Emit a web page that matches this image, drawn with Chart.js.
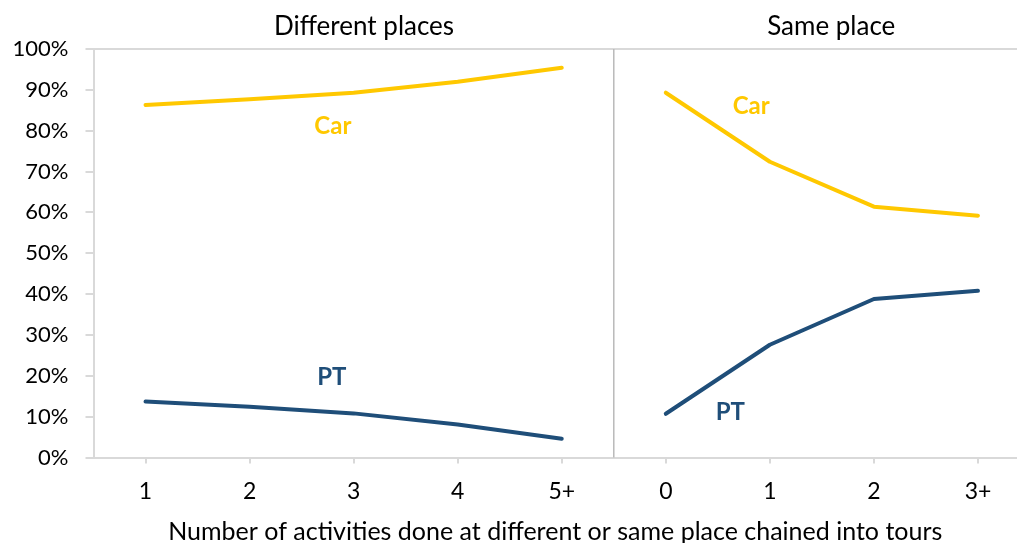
<!DOCTYPE html>
<html>
<head>
<meta charset="utf-8">
<script src="https://cdn.jsdelivr.net/npm/chart.js@4/dist/chart.umd.min.js"></script>
<style>
  html, body { margin: 0; padding: 0; background: #fff; }
  #wrap { width: 1017px; height: 543px; position: relative; }
</style>
</head>
<body>
<div id="wrap"><canvas id="c" width="1017" height="543"></canvas></div>
<script>
// ---- data ----
const xLabels = ['1', '2', '3', '4', '5+', '0', '1', '2', '3+'];
const carDifferent = [86.3, 87.7, 89.3, 92.0, 95.4];
const ptDifferent = [13.7, 12.4, 10.8, 8.1, 4.6];
const carSame = [89.3, 72.4, 61.4, 59.2];
const ptSame = [10.7, 27.6, 38.8, 40.8];
const yTickValues = [0, 10, 20, 30, 40, 50, 60, 70, 80, 90, 100];
const panelTitles = ['Different places', 'Same place'];
const panelTitleX = [2.1, 6.59];
const seriesLabels = ['Car', 'PT', 'Car', 'PT'];
const seriesLabelX = [1.8, 1.79, 5.82, 5.62];
const seriesLabelY = [81.1, 19.6, 85.9, 11.1];
const xTitle = 'Number of activities done at different or same place chained into tours';

const CAR = '#FFC800';
const PT = '#1F4E79';
const GRID = '#d9d9d9';
const FONT = 'Lato, "Open Sans", sans-serif';

const sameOffset = carDifferent.length;
const toPts = (arr, off) => arr.map((v, i) => ({ x: i + off, y: v }));
const labelColors = [CAR, PT, CAR, PT];

const overlay = {
  id: 'overlay',
  afterDatasetsDraw(chart) {
    const { ctx, chartArea, scales } = chart;
    const xs = scales.x, ys = scales.y;
    ctx.save();
    // divider between panels
    const dx = xs.getPixelForValue(sameOffset - 0.5);
    ctx.strokeStyle = '#b9b9b9';
    ctx.lineWidth = 1.5;
    ctx.beginPath();
    ctx.moveTo(dx, chartArea.top);
    ctx.lineTo(dx, chartArea.bottom);
    ctx.stroke();
    // panel titles
    ctx.fillStyle = '#000';
    ctx.font = '26px ' + FONT;
    ctx.textAlign = 'center';
    ctx.textBaseline = 'alphabetic';
    panelTitles.forEach((t, i) => {
      ctx.fillText(t, xs.getPixelForValue(panelTitleX[i]), 35);
    });
    // series labels
    ctx.font = 'bold 24px ' + FONT;
    ctx.textBaseline = 'middle';
    seriesLabels.forEach((t, i) => {
      ctx.fillStyle = labelColors[i];
      ctx.fillText(t, xs.getPixelForValue(seriesLabelX[i]), ys.getPixelForValue(seriesLabelY[i]));
    });
    ctx.restore();
  }
};

const lineStyle = (color) => ({
  borderColor: color,
  backgroundColor: color,
  borderWidth: 4,
  pointRadius: 0,
  tension: 0,
  borderCapStyle: 'round',
  borderJoinStyle: 'round',
  fill: false
});

new Chart(document.getElementById('c'), {
  type: 'line',
  data: {
    datasets: [
      { label: 'Car (different)', data: toPts(carDifferent, 0), ...lineStyle(CAR) },
      { label: 'PT (different)', data: toPts(ptDifferent, 0), ...lineStyle(PT) },
      { label: 'Car (same)', data: toPts(carSame, sameOffset), ...lineStyle(CAR) },
      { label: 'PT (same)', data: toPts(ptSame, sameOffset), ...lineStyle(PT) }
    ]
  },
  options: {
    responsive: false,
    animation: false,
    layout: { padding: { top: 49, left: 0, right: 0, bottom: 0 } },
    plugins: { legend: { display: false }, tooltip: { enabled: false } },
    scales: {
      x: {
        type: 'linear',
        min: -0.5,
        max: 8.375,
        afterBuildTicks(s) { s.ticks = xLabels.map((_, i) => ({ value: i })); },
        afterFit(s) { s.height = 85.5; },
        ticks: {
          autoSkip: false,
          maxRotation: 0,
          padding: 14,
          color: '#000',
          font: { family: FONT, size: 23 },
          callback: (v, i) => xLabels[i]
        },
        grid: { drawOnChartArea: false, drawTicks: true, tickLength: 6, tickColor: GRID, lineWidth: 2 },
        border: { color: GRID, width: 2 },
        title: {
          display: true,
          text: xTitle,
          color: '#000',
          font: { family: FONT, size: 25, lineHeight: 1 },
          padding: { top: 0, bottom: -1 }
        }
      },
      y: {
        min: 0,
        max: 100,
        afterBuildTicks(s) { s.ticks = yTickValues.map(v => ({ value: v })); },
        afterFit(s) { s.width = 93.5; },
        ticks: {
          padding: 17,
          color: '#000',
          font: { family: FONT, size: 22 },
          callback: (v) => v + '%'
        },
        grid: {
          drawOnChartArea: true,
          drawTicks: true,
          tickLength: 8,
          lineWidth: 2,
          tickColor: GRID,
          color: (c) => (c.tick && c.tick.value === 100 ? GRID : 'rgba(0,0,0,0)')
        },
        border: { color: GRID, width: 2 }
      }
    }
  },
  plugins: [overlay]
});
</script>
</body>
</html>
